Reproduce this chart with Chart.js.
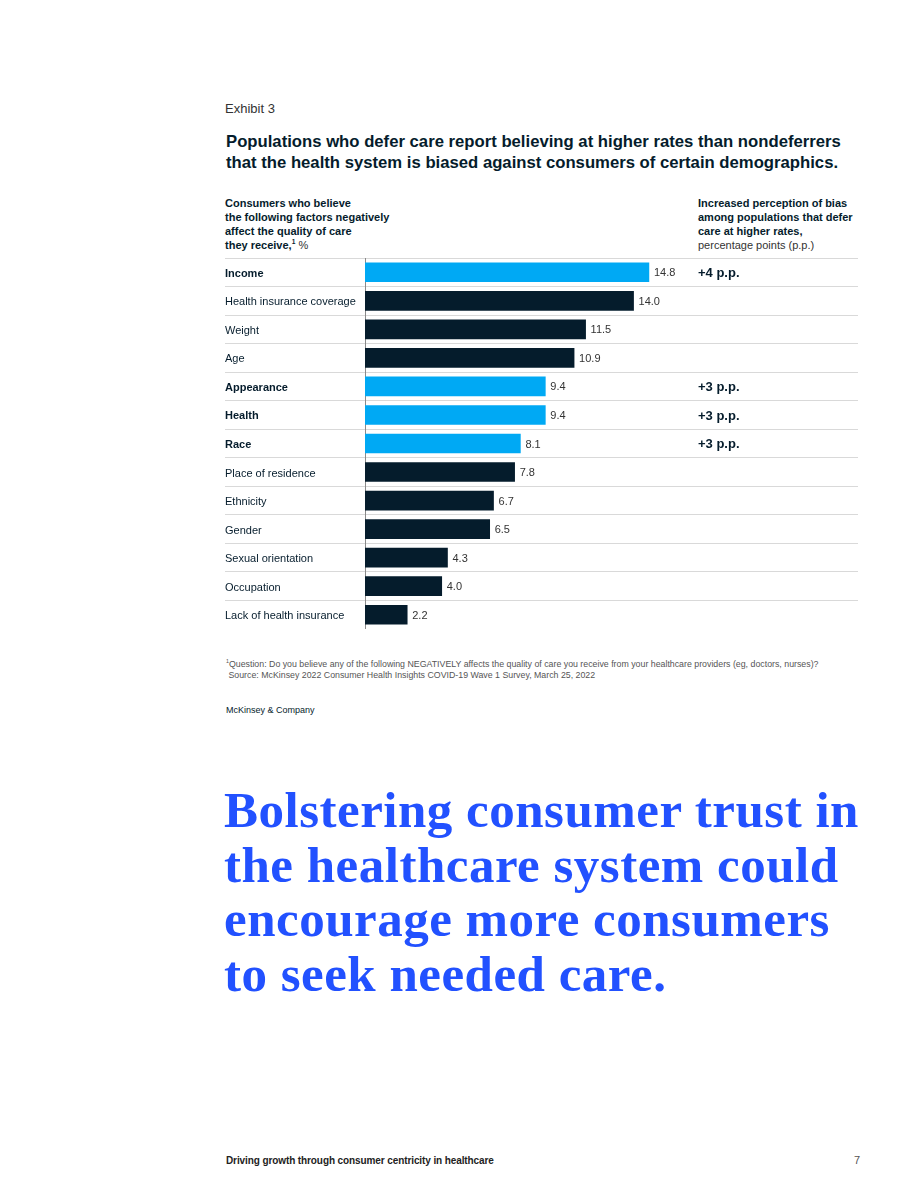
<!DOCTYPE html>
<html>
<head>
<meta charset="utf-8">
<script src="https://cdn.jsdelivr.net/npm/chart.js@4.4.0/dist/chart.umd.min.js"></script>
<style>
  body { margin: 0; background: #fff; width: 920px; height: 1191px; position: relative;
         font-family: "Liberation Sans", Arial, sans-serif; color: #051c2c; }
  .t { position: absolute; white-space: nowrap; }
  .hdr { font-size: 11px; line-height: 14px; font-weight: bold; }
  .hdr span { font-weight: normal; color: #333; }
  sup { font-size: 60%; line-height: 0; }
  #wrap { position: absolute; left: 225px; top: 258px; width: 633px; height: 371px; }
</style>
</head>
<body>
<div class="t" style="left:225px;top:101px;font-size:13px;color:#333;">Exhibit 3</div>
<div class="t" style="left:226px;top:132px;font-size:16.7px;line-height:20.5px;font-weight:bold;">Populations who defer care report believing at higher rates than nondeferrers<br>that the health system is biased against consumers of certain demographics.</div>

<div class="t hdr" style="left:225px;top:196px;">Consumers who believe<br>the following factors negatively<br>affect the quality of care<br>they receive,<sup>1</sup><span> %</span></div>
<div class="t hdr" style="left:698px;top:196px;">Increased perception of bias<br>among populations that defer<br>care at higher rates,<br><span>percentage points (p.p.)</span></div>

<div id="wrap"><canvas id="chart"></canvas></div>

<div class="t" style="left:226px;top:659px;font-size:8.8px;line-height:11px;color:#555;"><sup>1</sup>Question: Do you believe any of the following NEGATIVELY affects the quality of care you receive from your healthcare providers (eg, doctors, nurses)?<br>&nbsp;Source: McKinsey 2022 Consumer Health Insights COVID-19 Wave 1 Survey, March 25, 2022</div>
<div class="t" style="left:226px;top:705px;font-size:9px;color:#051c2c;">McKinsey &amp; Company</div>

<div class="t" style="left:224px;top:783px;font-family:'Liberation Serif',serif;font-weight:bold;font-size:51px;line-height:54.5px;color:#2251ff;letter-spacing:0.5px;">Bolstering consumer trust in<br>the healthcare system could<br>encourage more consumers<br>to seek needed care.</div>

<div class="t" style="left:226px;top:1155px;font-size:10px;font-weight:bold;color:#222;letter-spacing:-0.1px;">Driving growth through consumer centricity in healthcare</div>
<div class="t" style="left:854px;top:1154px;font-size:11px;color:#555;">7</div>

<script>
// Consumers who believe the factor negatively affects their care, %
const categories = ['Income', 'Health insurance coverage', 'Weight', 'Age', 'Appearance', 'Health', 'Race',
  'Place of residence', 'Ethnicity', 'Gender', 'Sexual orientation', 'Occupation', 'Lack of health insurance'];
const shares = [14.8, 14.0, 11.5, 10.9, 9.4, 9.4, 8.1, 7.8, 6.7, 6.5, 4.3, 4.0, 2.2];
// increased perception of bias among deferrers, p.p. (null = none shown)
const biasIncrease = [4, null, null, null, 3, 3, 3, null, null, null, null, null, null];

const LIGHT = '#00a9f4';
const DARK = '#051c2c';
const LINE = '#d9d9d9';
const ANNOT_LEFT = 473;   // right-hand column, px from the canvas left edge

const barColors = biasIncrease.map(v => v === null ? DARK : LIGHT);

const labelsPlugin = {
  id: 'rowLabels',
  afterDatasetsDraw(chart) {
    const ctx = chart.ctx;
    const meta = chart.getDatasetMeta(0);
    ctx.save();
    ctx.textBaseline = 'middle';
    meta.data.forEach((bar, i) => {
      ctx.font = '11px "Liberation Sans", Arial, sans-serif';
      ctx.fillStyle = '#333';
      ctx.textAlign = 'left';
      ctx.fillText(shares[i].toFixed(1), bar.x + 5, bar.y + 1);
      if (biasIncrease[i] !== null) {
        ctx.font = 'bold 13px "Liberation Sans", Arial, sans-serif';
        ctx.fillStyle = DARK;
        ctx.fillText('+' + biasIncrease[i] + ' p.p.', ANNOT_LEFT, bar.y + 1);
      }
    });
    ctx.restore();
  }
};

Chart1 = new Chart(document.getElementById('chart'), {
  type: 'bar',
  data: {
    labels: categories,
    datasets: [{
      data: shares,
      backgroundColor: barColors,
      barThickness: 19,
      borderWidth: 0
    }]
  },
  options: {
    indexAxis: 'y',
    responsive: true,
    maintainAspectRatio: false,
    animation: false,
    layout: { padding: 0 },
    plugins: { legend: { display: false }, tooltip: { enabled: false } },
    scales: {
      x: { display: false, min: 0, max: 25.7 },
      y: {
        afterFit: s => { s.width = 140; s.paddingTop = 0; s.paddingBottom = 0; },
        grid: {
          offset: true,
          tickLength: 140,
          lineWidth: 1,
          color: c => c.type === 'tick' ? LINE : 'rgba(0,0,0,0)',
          tickColor: c => c.type === 'tick' ? LINE : 'rgba(0,0,0,0)'
        },
        border: { display: true, color: '#8a8a8a', width: 1 },
        ticks: {
          autoSkip: false,
          crossAlign: 'far',
          labelOffset: 1.5,
          color: DARK,
          font: c => ({
            family: '"Liberation Sans", Arial, sans-serif',
            size: 11,
            weight: biasIncrease[c.index] !== null ? 'bold' : 'normal'
          })
        }
      }
    }
  },
  plugins: [labelsPlugin]
});
</script>
</body>
</html>
